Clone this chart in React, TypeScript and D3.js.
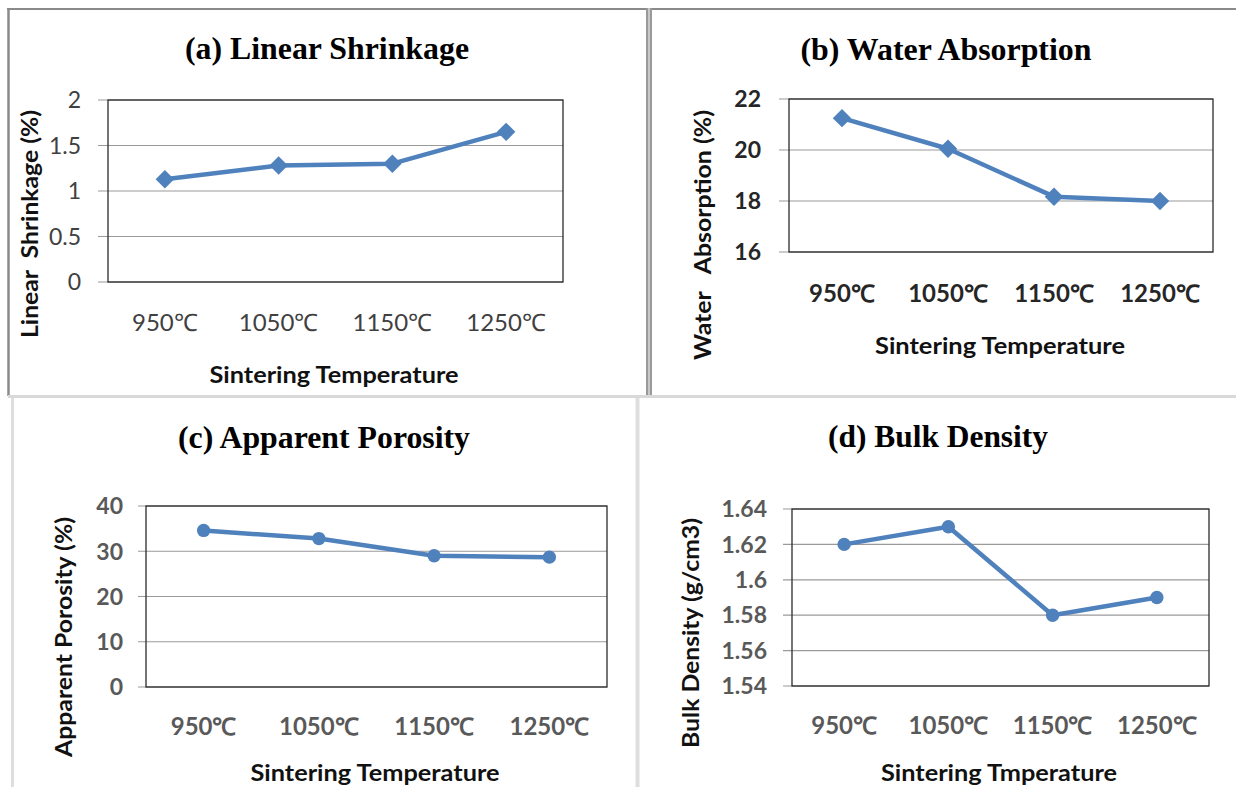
import React, { useEffect, useRef } from 'react'
import * as d3 from 'd3'

// chart values
const categories = ['950℃', '1050℃', '1150℃', '1250℃']
const linearShrinkage = [1.13, 1.28, 1.3, 1.65]
const waterAbsorption = [21.25, 20.05, 18.17, 18.0]
const apparentPorosity = [34.6, 32.8, 29.0, 28.7]
const bulkDensity = [1.62, 1.63, 1.58, 1.59]

const shrinkageTicks = [0, 0.5, 1, 1.5, 2]
const absorptionTicks = [16, 18, 20, 22]
const porosityTicks = [0, 10, 20, 30, 40]
const densityTicks = [1.54, 1.56, 1.58, 1.6, 1.62, 1.64]

const W = 1236
const H = 787
const BLUE = '#4F81BD'

const panels = [
  {
    title: '(a) Linear Shrinkage', titleX: 327, titleY: 59, titleLen: 284,
    xTitle: 'Sintering Temperature', xTitleX: 334, xTitleY: 383, xTitleLen: 249,
    yTitle: 'Linear  Shrinkage (%)', yTitleX: 30, yTitleY: 224, yTitleLen: 228,
    values: linearShrinkage, ticks: shrinkageTicks,
    plot: { x0: 108, x1: 563, y0: 100, y1: 282 }, tickLeft: 98, labelRight: 81, xLabelY: 331,
    marker: 'diamond', tickWeight: 'normal', tickColor: '#404040'
  },
  {
    title: '(b) Water Absorption', titleX: 946, titleY: 60, titleLen: 291,
    xTitle: 'Sintering Temperature', xTitleX: 1000, xTitleY: 354, xTitleLen: 250,
    yTitle: 'Water   Absorption (%)', yTitleX: 703, yTitleY: 235, yTitleLen: 250,
    values: waterAbsorption, ticks: absorptionTicks,
    plot: { x0: 789, x1: 1213, y0: 99, y1: 252 }, tickLeft: 779, labelRight: 761, xLabelY: 302,
    marker: 'diamond', tickWeight: 'bold', tickColor: '#262626'
  },
  {
    title: '(c) Apparent Porosity', titleX: 324, titleY: 448, titleLen: 292,
    xTitle: 'Sintering Temperature', xTitleX: 375, xTitleY: 781, xTitleLen: 249,
    yTitle: 'Apparent Porosity (%)', yTitleX: 64, yTitleY: 637, yTitleLen: 240,
    values: apparentPorosity, ticks: porosityTicks,
    plot: { x0: 146, x1: 607, y0: 506, y1: 687 }, tickLeft: 138, labelRight: 123, xLabelY: 735,
    marker: 'circle', tickWeight: 'bold', tickColor: '#595959'
  },
  {
    title: '(d) Bulk Density', titleX: 938, titleY: 447, titleLen: 220,
    xTitle: 'Sintering Tmperature', xTitleX: 999, xTitleY: 781, xTitleLen: 236,
    yTitle: 'Bulk Density (g/cm3)', yTitleX: 691, yTitleY: 633, yTitleLen: 230,
    values: bulkDensity, ticks: densityTicks,
    plot: { x0: 792, x1: 1209, y0: 509, y1: 686 }, tickLeft: 783, labelRight: 767, xLabelY: 734,
    marker: 'circle', tickWeight: 'bold', tickColor: '#595959'
  }
]

const App = () => {
  const ref = useRef<SVGSVGElement | null>(null)

  useEffect(() => {
    if (!ref.current) return
    const svg = d3.select(ref.current)
    svg.selectAll('*').remove()

    svg.append('rect').attr('width', W).attr('height', H).attr('fill', '#fff')

    // panel frame lines
    const frame = svg.append('g').attr('fill', 'none')
    frame.append('line').attr('x1', 7).attr('x2', W).attr('y1', 9).attr('y2', 9)
      .attr('stroke', '#8a8a8a').attr('stroke-width', 2)
    frame.append('line').attr('x1', 8.5).attr('x2', 8.5).attr('y1', 8).attr('y2', 396)
      .attr('stroke', '#8a8a8a').attr('stroke-width', 2.5)
    frame.append('rect').attr('x', 646).attr('y', 8).attr('width', 6).attr('height', 388)
      .attr('fill', '#c8c8c8')
    ;[647, 651].forEach((x) => {
      frame.append('line').attr('x1', x).attr('x2', x).attr('y1', 8).attr('y2', 396)
        .attr('stroke', '#8a8a8a').attr('stroke-width', 1.5)
    })
    frame.append('line').attr('x1', 8).attr('x2', W).attr('y1', 396.5).attr('y2', 396.5)
      .attr('stroke', '#d9d9d9').attr('stroke-width', 3)
    frame.append('line').attr('x1', 12.5).attr('x2', 12.5).attr('y1', 398).attr('y2', H)
      .attr('stroke', '#dedede').attr('stroke-width', 3)
    frame.append('line').attr('x1', 637.5).attr('x2', 637.5).attr('y1', 398).attr('y2', H)
      .attr('stroke', '#dedede').attr('stroke-width', 4)

    panels.forEach((p) => {
      const g = svg.append('g')
      const { x0, x1, y0, y1 } = p.plot

      const x = d3.scaleBand().domain(categories).range([x0, x1])
      const y = d3.scaleLinear()
        .domain([p.ticks[0], p.ticks[p.ticks.length - 1]])
        .range([y1, y0])

      // gridlines + tick stubs
      p.ticks.forEach((t) => {
        g.append('line')
          .attr('x1', p.tickLeft).attr('x2', x1)
          .attr('y1', y(t)).attr('y2', y(t))
          .attr('stroke', '#9a9a9a').attr('stroke-width', 1.2)
        g.append('text')
          .attr('x', p.labelRight).attr('y', y(t)).attr('dy', '0.36em')
          .attr('text-anchor', 'end')
          .attr('fill', p.tickColor)
          .style('font-family', 'Lato, sans-serif')
          .style('font-size', '23px')
          .style('font-weight', p.tickWeight)
          .text(String(t))
      })

      // plot border
      g.append('rect')
        .attr('x', x0).attr('y', y0).attr('width', x1 - x0).attr('height', y1 - y0)
        .attr('fill', 'none').attr('stroke', '#2b2b2b').attr('stroke-width', 1.3)

      // category labels
      categories.forEach((c) => {
        g.append('text')
          .attr('x', x(c)! + x.bandwidth() / 2).attr('y', p.xLabelY)
          .attr('text-anchor', 'middle')
          .attr('fill', p.tickColor)
          .style('font-family', 'Lato, sans-serif')
          .style('font-size', '24px')
          .style('font-weight', p.tickWeight)
          .text(c)
      })

      const pts: [number, number][] = p.values.map((v, i) => [
        x(categories[i])! + x.bandwidth() / 2,
        y(v)
      ])

      g.append('path')
        .attr('d', d3.line()(pts))
        .attr('fill', 'none')
        .attr('stroke', BLUE)
        .attr('stroke-width', 4.5)
        .attr('stroke-linejoin', 'round')

      const sym = p.marker === 'diamond'
        ? d3.symbol().type(d3.symbolSquare).size(170)
        : d3.symbol().type(d3.symbolCircle).size(140)
      pts.forEach(([px, py]) => {
        g.append('path')
          .attr('d', sym()!)
          .attr('transform', `translate(${px},${py})${p.marker === 'diamond' ? ' rotate(45)' : ''}`)
          .attr('fill', BLUE)
      })

      // titles
      g.append('text')
        .attr('x', p.titleX).attr('y', p.titleY)
        .attr('text-anchor', 'middle')
        .attr('textLength', p.titleLen).attr('lengthAdjust', 'spacingAndGlyphs')
        .attr('fill', '#000')
        .style('font-family', '"Liberation Serif", "Times New Roman", serif')
        .style('font-size', '32px')
        .style('font-weight', 'bold')
        .text(p.title)

      g.append('text')
        .attr('x', p.xTitleX).attr('y', p.xTitleY)
        .attr('text-anchor', 'middle')
        .attr('textLength', p.xTitleLen).attr('lengthAdjust', 'spacingAndGlyphs')
        .attr('fill', '#111')
        .style('font-family', 'Lato, sans-serif')
        .style('font-size', '23px')
        .style('font-weight', 'bold')
        .text(p.xTitle)

      g.append('text')
        .attr('transform', `translate(${p.yTitleX},${p.yTitleY}) rotate(-90)`)
        .attr('dy', '0.36em')
        .attr('text-anchor', 'middle')
        .attr('textLength', p.yTitleLen).attr('lengthAdjust', 'spacingAndGlyphs')
        .attr('fill', '#111')
        .style('font-family', 'Lato, sans-serif')
        .style('font-size', '23px')
        .style('font-weight', 'bold')
        .style('white-space', 'pre')
        .text(p.yTitle)
    })
  }, [])

  return (
    <svg
      ref={ref}
      width={W}
      height={H}
      style={{ position: 'absolute', left: 0, top: 0, display: 'block' }}
    />
  )
}

export default App
